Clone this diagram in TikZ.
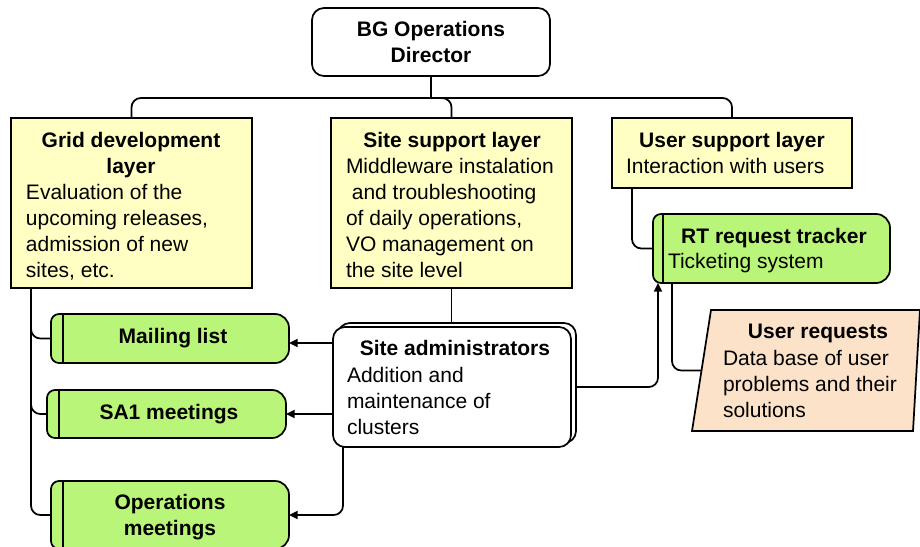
\documentclass[tikz,border=0pt]{standalone}
\usepackage{fontspec}
\setmainfont{Liberation Sans}
\usetikzlibrary{arrows.meta,calc}
\definecolor{ylw}{RGB}{255,255,196}
\definecolor{grn}{RGB}{184,245,120}
\definecolor{pch}{RGB}{252,226,200}
\newcommand{\fs}{\fontsize{15.75}{19.5}\selectfont}
\newcommand{\greenshape}[2]{%
 \filldraw[lw, fill=grn] ([xshift=6pt]#1.north west) -- ([xshift=-10.5pt]#1.north east)
   arc[start angle=90,end angle=0,radius=10.5pt] -- ([yshift=10.5pt]#1.south east)
   arc[start angle=0,end angle=-90,radius=10.5pt] -- ([xshift=6pt]#1.south west)
   arc[start angle=-90,end angle=-180,radius=6pt] -- ([yshift=-6pt]#1.north west)
   arc[start angle=180,end angle=90,radius=6pt] -- cycle;
 \draw[lw] ([xshift=#2]#1.north west) -- ([xshift=#2]#1.south west);
}
\begin{document}
\begin{tikzpicture}[x=0.75pt,y=-0.75pt,
  every node/.style={inner sep=0pt, outer sep=0pt},
  lw/.style={line width=1.3pt},
  ybox/.style={draw, lw, fill=ylw, anchor=north west},
  wbox/.style={draw, lw, fill=white, rounded corners=9pt, anchor=north west},
  sz/.style 2 args={minimum width=#1*0.75pt, minimum height=#2*0.75pt},
  hd/.style={font=\fs\bfseries, align=center, anchor=north},
  bd/.style={font=\fs, align=left, anchor=north west},
  conn/.style={lw, rounded corners=7pt},
  arr/.style={conn, -{Triangle[length=6.5pt,width=6pt]}},
]
\useasboundingbox (0,0) rectangle (920,546);

% director
\node[wbox, sz={238}{68}] (dir) at (312,8) {};
\node[hd] (dirt) at (431,17.8) {\strut BG Operations\\Director};

% layers
\node[ybox, sz={241}{170}] (grid) at (11,118) {};
\node[ybox, sz={241}{170}] (site) at (331,118) {};
\node[ybox, sz={240}{70}] (user) at (612,118) {};

\node[hd] (gridh) at (131,128.8) {\strut Grid development\\layer};
\node[bd] (gridb) at (26,180.8) {\strut Evaluation of the\\upcoming releases,\\admission of new\\sites, etc.};
\node[hd] (siteh) at (452,128.8) {\strut Site support layer};
\node[bd] (siteb) at (346,154.8) {\strut Middleware instalation\\\hspace*{0.28em}and troubleshooting\\of daily operations,\\VO management on\\the site level};
\node[hd] (userh) at (732,128.8) {\strut User support layer};
\node[bd] (userb) at (626,154.8) {\strut Interaction with users};

% site administrators
\node[wbox, sz={238}{120}] (sadmb) at (338,323) {};
\node[wbox, sz={238}{120}] (sadm) at (333,327) {};
\node[hd] (sadmh) at (455,336.8) {\strut Site administrators};
\node[bd] (sadmd) at (347,363.8) {\strut Addition and\\maintenance of\\clusters};

% green boxes
\node[sz={238}{49}, anchor=north west] (ml) at (51,314) {};
\greenshape{ml}{9pt}
\node[hd] (mlt) at (173,324.8) {\strut Mailing list};
\node[sz={239}{48}, anchor=north west] (sa1) at (47,390) {};
\greenshape{sa1}{9pt}
\node[hd] (sa1t) at (169,400.8) {\strut SA1 meetings};
\node[sz={238}{68}, anchor=north west] (ops) at (51,481) {};
\greenshape{ops}{9pt}
\node[hd] (opst) at (170,490.8) {\strut Operations\\meetings};
\node[sz={237}{69}, anchor=north west] (rt) at (653,214) {};
\greenshape{rt}{7.5pt}
\node[hd] (rth) at (774,224.8) {\strut RT request tracker};
\node[bd] (rtb) at (668,249.8) {\strut Ticketing system};

% user requests
\node[sz={228}{121}, anchor=north west] (ureq) at (692,310) {};
\filldraw[lw, fill=pch] ([xshift=14.25pt]ureq.north west) -- (ureq.north east)
  -- ([xshift=-5.25pt]ureq.south east) -- (ureq.south west) -- cycle;
\coordinate (ureqin) at ([xshift=7.2pt]ureq.west);
\node[hd] (ureqh) at (818,319.8) {\strut User requests};
\node[bd] (ureqb) at (723,346.8) {\strut Data base of user\\problems and their\\solutions};

% connectors
\coordinate (bus) at ($(dir.south)+(0,22)$);
\draw[lw] (dir.south) -- (bus);
\draw[conn] (bus) -| (grid.north);
\draw[conn] (bus) -| (site.north);
\draw[conn] (bus) -| (user.north);
\draw[lw] (site.south) -- (site.south |- sadmb.north);

\coordinate (gt) at ([xshift=15pt]grid.south west);
\draw[conn] (gt) |- (ml.west);
\draw[conn] (gt) |- (sa1.west);
\draw[conn] (gt) |- (ops.west);

\coordinate (mlin) at ([yshift=-3.4pt]ml.east);
\draw[arr] (sadm.west |- mlin) -- (mlin);
\draw[arr] (sadm.west |- sa1.east) -- (sa1.east);
\draw[arr] ([xshift=7.5pt]sadm.south west) |- (ops.east);
\draw[arr] (sadmb.east |- sadm.east) -| ([xshift=3.75pt]rt.south west);

\draw[conn] ([xshift=15pt]user.south west) |- (rt.west);
\draw[conn] ([xshift=14.25pt]rt.south west) |- (ureqin);
\end{tikzpicture}
\end{document}
